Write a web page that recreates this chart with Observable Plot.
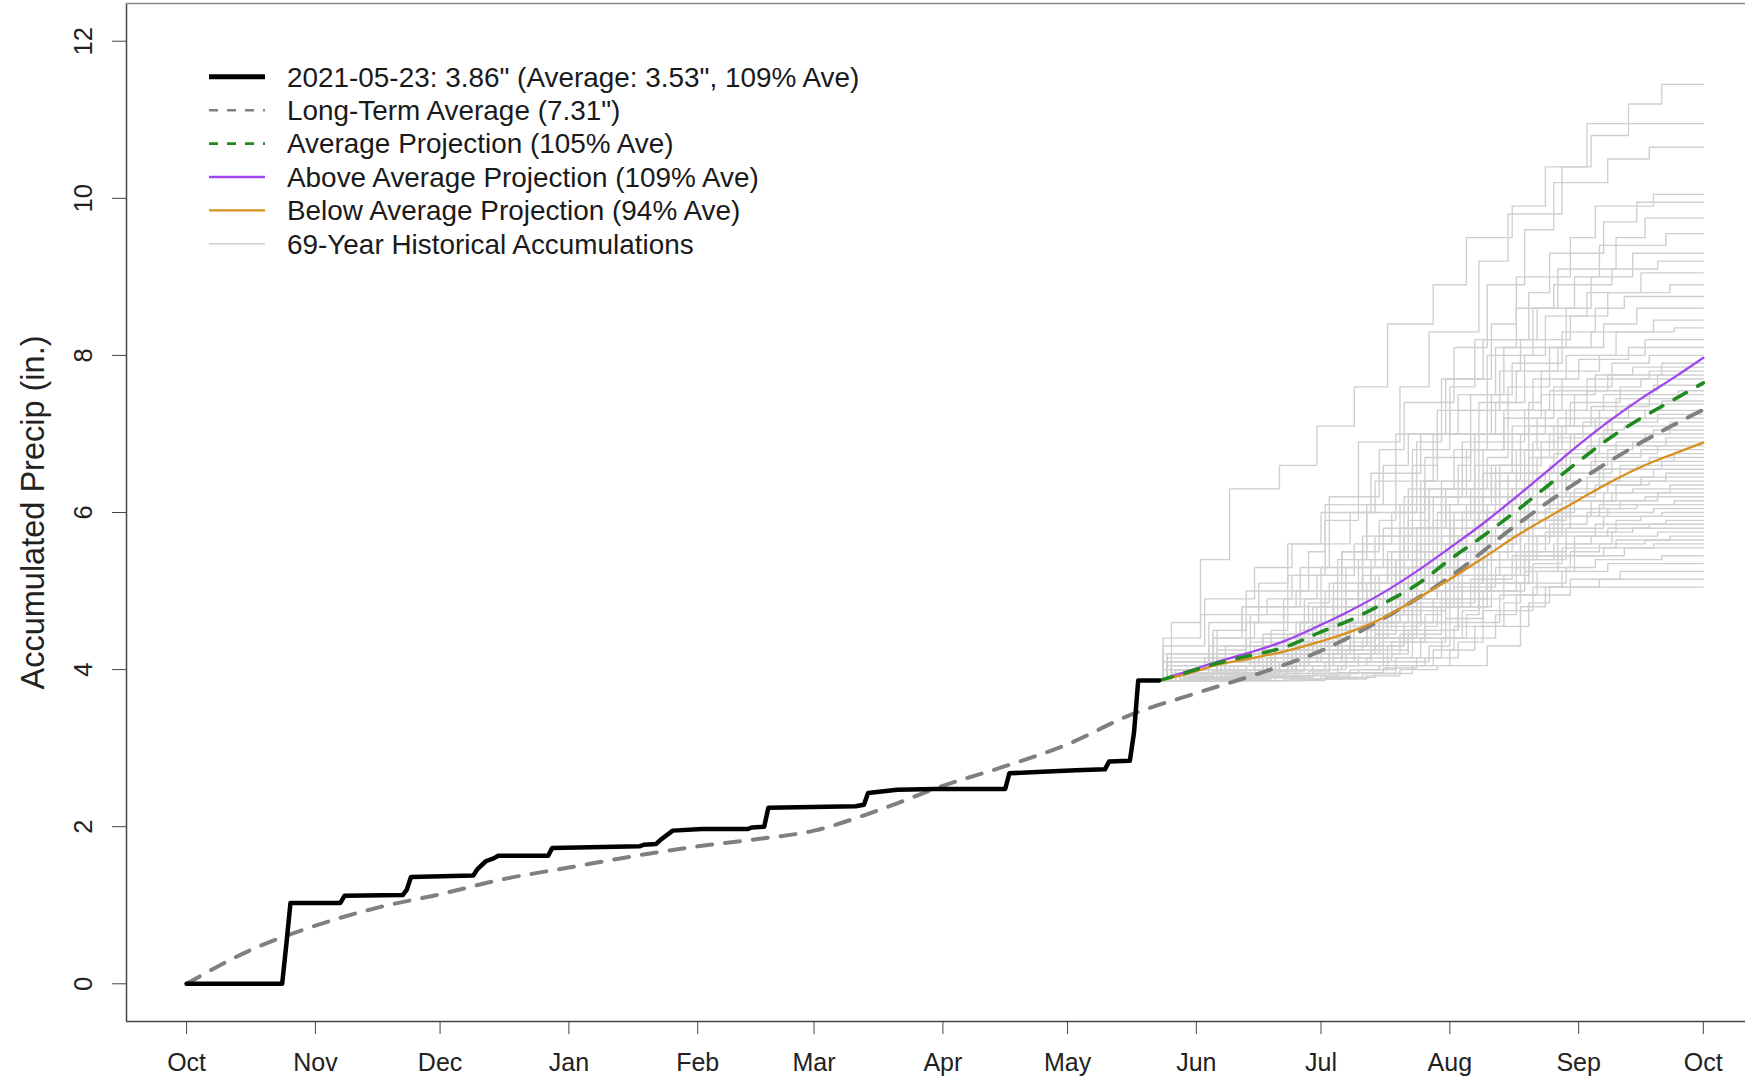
<!DOCTYPE html>
<html>
<head>
<meta charset="utf-8">
<script src="https://cdn.jsdelivr.net/npm/d3@7"></script>
<script src="https://cdn.jsdelivr.net/npm/@observablehq/plot@0.6"></script>
<style>
html, body { margin: 0; padding: 0; background: #fff; overflow: hidden; }
#wrap { position: relative; width: 1745px; height: 1081px; }
#wrap svg { display: block; }
</style>
</head>
<body>
<div id="wrap"></div>
<script>
// ---------------- DATA ----------------
// Water year origin: 2020-10-01. Days counted from that date.
const monthLabels = ["Oct","Nov","Dec","Jan","Feb","Mar","Apr","May","Jun","Jul","Aug","Sep","Oct"];
const yTicks = [0, 2, 4, 6, 8, 10, 12];
const yTitle = "Accumulated Precip (in.)";

// Observed 2020-21 accumulation (black)
const obsDay = [0,23,24,25,37,38,52,53,54,69,70,72,74,75,87,88,109,110,113,114,117,124,135,136,139,140,161,163,164,171,180,197,198,206,214,221,222,227,228,229,234];
const obsValue = [0,0,0.5,1.03,1.03,1.12,1.13,1.2,1.36,1.38,1.46,1.56,1.6,1.63,1.63,1.73,1.75,1.77,1.78,1.83,1.95,1.97,1.97,1.99,2.0,2.24,2.26,2.28,2.43,2.47,2.48,2.48,2.68,2.7,2.72,2.73,2.83,2.84,3.2,3.86,3.86];

// Long-term average (gray dashed)
const ltaDay = [0,15,31,46,61,76,92,107,123,137,151,166,182,197,212,227,243,258,273,289,304,320,335,350,365];
const ltaValue = [0,0.42,0.74,0.97,1.14,1.33,1.48,1.62,1.75,1.84,1.95,2.20,2.52,2.77,3.05,3.42,3.70,3.95,4.24,4.68,5.18,5.84,6.40,6.89,7.31];

// Projections from 2021-05-23
const projDay = [234,241,248,256,264,273,280,288,296,304,312,320,328,335,342,350,358,365];
const aboveValue = [3.86,3.98,4.10,4.22,4.36,4.57,4.75,4.98,5.25,5.55,5.86,6.20,6.55,6.86,7.15,7.45,7.72,7.97];
const avgValue   = [3.86,3.97,4.08,4.18,4.28,4.48,4.63,4.84,5.08,5.40,5.70,6.02,6.36,6.65,6.93,7.20,7.44,7.65];
const belowValue = [3.86,3.95,4.06,4.14,4.23,4.36,4.48,4.66,4.90,5.15,5.42,5.70,5.95,6.16,6.37,6.58,6.75,6.89];

// 69 historical accumulations from 2021-05-23: [days after May 23, accumulated inches]
const histEvents = [
  [[3,4.6],[10,5.4],[17,6.3],[29,6.6],[38,7.1],[47,7.6],[55,8.4],[66,8.9],[74,9.5],[85,9.9],[93,10.4],[104,10.8],[113,11.2],[121,11.45]],
  [[6,3.95],[16,4.3],[22,4.7],[31,5.2],[40,5.9],[48,6.9],[58,7.6],[65,8.3],[77,9.2],[84,9.8],[97,10.4],[103,10.95]],
  [[2,4.1],[13,4.4],[20,4.8],[34,5.3],[41,6.2],[53,6.8],[59,7.4],[71,8.1],[79,8.9],[88,9.6],[95,10.2],[108,10.5],[118,10.65]],
  [[9,3.9],[18,4.05],[25,4.4],[35,4.9],[44,5.5],[50,6.0],[62,6.9],[68,7.7],[80,8.4],[86,9.0],[99,9.5],[105,9.9],[119,10.05]],
  [[1,4.3],[11,4.9],[23,5.3],[32,5.6],[39,6.0],[52,6.4],[57,7.0],[70,7.6],[76,8.2],[89,8.8],[94,9.3],[107,9.7],[115,9.95]],
  [[8,3.9],[19,4.0],[27,4.2],[33,4.6],[45,5.0],[49,5.7],[61,6.6],[67,7.3],[79,8.0],[90,8.6],[96,9.1],[110,9.5],[117,9.75]],
  [[4,4.0],[14,4.5],[21,5.0],[36,5.5],[40,6.1],[54,6.6],[60,7.0],[72,7.5],[81,8.1],[86,8.6],[100,9.0],[106,9.4],[122,9.55]],
  [[17,3.95],[26,4.1],[30,4.4],[43,4.7],[52,5.2],[58,5.8],[64,6.7],[75,7.5],[83,8.1],[98,8.6],[104,9.0],[114,9.3]],
  [[2,4.2],[12,4.6],[24,5.1],[31,5.6],[46,6.0],[51,6.5],[63,7.0],[69,7.7],[78,8.2],[91,8.6],[95,8.9],[109,9.1],[120,9.2]],
  [[7,3.9],[15,4.1],[28,4.3],[34,4.6],[42,5.1],[55,5.5],[59,6.2],[73,6.9],[77,7.4],[88,8.0],[93,8.5],[108,8.8],[116,9.05]],
  [[5,3.95],[16,4.05],[22,4.35],[37,4.8],[43,5.4],[50,6.1],[61,6.8],[70,7.3],[82,7.8],[87,8.2],[99,8.5],[103,8.8],[123,8.9]],
  [[1,4.4],[10,4.7],[26,4.9],[32,5.2],[44,5.5],[53,5.9],[57,6.4],[66,7.0],[80,7.5],[85,7.9],[97,8.3],[105,8.6],[112,8.75]],
  [[15,3.95],[23,4.05],[35,4.3],[41,4.6],[48,5.0],[62,5.6],[68,6.3],[76,7.0],[84,7.6],[94,8.1],[107,8.4],[115,8.6]],
  [[3,4.05],[14,4.2],[25,4.45],[30,4.8],[39,5.3],[54,5.8],[60,6.3],[71,6.8],[79,7.3],[90,7.7],[98,8.0],[110,8.3],[119,8.45]],
  [[9,3.9],[17,4.0],[27,4.15],[36,4.4],[42,4.9],[49,5.6],[63,6.4],[67,7.0],[81,7.4],[86,7.8],[96,8.1],[104,8.3],[124,8.35]],
  [[2,4.1],[13,4.5],[20,4.8],[33,5.0],[45,5.3],[52,5.7],[58,6.1],[72,6.6],[75,7.0],[89,7.4],[92,7.8],[106,8.0],[117,8.2]],
  [[12,3.9],[24,4.0],[31,4.2],[40,4.5],[50,4.9],[56,5.5],[65,6.2],[74,6.8],[83,7.3],[97,7.7],[101,7.95],[113,8.1]],
  [[6,3.95],[15,4.1],[21,4.3],[35,4.6],[44,4.9],[51,5.3],[62,5.8],[69,6.3],[78,6.8],[91,7.2],[95,7.6],[109,7.9],[118,8.0]],
  [[4,4.0],[11,4.15],[25,4.3],[34,4.5],[38,4.8],[53,5.2],[59,5.7],[70,6.1],[80,6.6],[85,7.1],[100,7.5],[105,7.75],[121,7.9]],
  [[8,3.88],[16,3.92],[26,4.05],[32,4.25],[46,4.6],[50,5.1],[64,5.8],[68,6.4],[77,6.9],[88,7.3],[94,7.55],[108,7.75],[114,7.85]],
  [[1,4.2],[13,4.4],[23,4.6],[36,4.85],[41,5.1],[55,5.4],[61,5.8],[66,6.2],[82,6.6],[87,7.0],[98,7.3],[103,7.55],[120,7.75]],
  [[10,3.9],[19,4.0],[28,4.2],[37,4.4],[43,4.7],[52,5.0],[57,5.4],[71,6.0],[76,6.6],[89,7.1],[99,7.4],[111,7.6],[116,7.7]],
  [[14,4.1],[22,4.2],[30,4.4],[39,4.8],[48,5.4],[60,5.9],[65,6.3],[79,6.7],[84,7.0],[93,7.3],[107,7.5],[119,7.62]],
  [[5,3.95],[17,4.05],[24,4.15],[33,4.3],[42,4.6],[54,5.0],[58,5.5],[73,6.0],[78,6.5],[90,6.9],[96,7.2],[110,7.45],[125,7.55]],
  [[3,4.05],[12,4.3],[27,4.5],[31,4.7],[45,4.9],[49,5.2],[63,5.6],[67,6.0],[81,6.4],[86,6.8],[95,7.1],[104,7.35],[118,7.5]],
  [[9,3.9],[18,3.95],[26,4.0],[35,4.1],[41,4.3],[53,4.7],[61,5.3],[70,5.9],[77,6.4],[88,6.8],[97,7.1],[106,7.3],[121,7.42]],
  [[6,4.0],[16,4.1],[23,4.3],[34,4.6],[40,5.0],[51,5.4],[62,5.8],[69,6.2],[80,6.5],[85,6.8],[99,7.0],[105,7.2],[113,7.38]],
  [[13,3.9],[25,4.0],[32,4.15],[44,4.4],[50,4.8],[59,5.2],[68,5.7],[76,6.2],[89,6.7],[94,7.0],[108,7.2],[117,7.3]],
  [[2,4.15],[14,4.25],[21,4.4],[36,4.55],[43,4.8],[48,5.1],[64,5.5],[71,5.9],[75,6.3],[91,6.7],[96,6.95],[102,7.15],[120,7.25]],
  [[7,3.9],[15,4.0],[28,4.1],[33,4.3],[46,4.5],[52,4.9],[57,5.4],[66,5.9],[82,6.4],[87,6.8],[100,7.0],[109,7.15],[115,7.2]],
  [[4,3.95],[19,4.05],[22,4.2],[37,4.4],[39,4.7],[55,5.0],[60,5.3],[72,5.7],[79,6.1],[84,6.5],[98,6.8],[104,7.0],[123,7.15]],
  [[11,3.88],[20,3.95],[29,4.1],[38,4.3],[47,4.6],[56,5.1],[63,5.6],[74,6.1],[81,6.6],[92,6.9],[107,7.05],[112,7.1]],
  [[3,4.0],[16,4.1],[24,4.25],[31,4.45],[42,4.7],[50,5.0],[61,5.4],[67,5.8],[78,6.2],[90,6.5],[95,6.75],[106,6.95],[119,7.05]],
  [[8,3.9],[13,4.0],[26,4.15],[35,4.35],[45,4.6],[54,4.9],[58,5.3],[70,5.7],[83,6.1],[86,6.4],[97,6.7],[110,6.9],[117,7.0]],
  [[15,3.95],[23,4.1],[34,4.3],[40,4.5],[53,4.8],[62,5.2],[68,5.6],[77,6.0],[88,6.4],[99,6.7],[103,6.85],[122,6.95]],
  [[1,4.1],[12,4.2],[25,4.3],[30,4.45],[44,4.6],[49,4.9],[64,5.2],[69,5.6],[79,6.0],[85,6.3],[96,6.6],[108,6.8],[114,6.9]],
  [[9,3.88],[17,3.95],[21,4.05],[36,4.2],[43,4.4],[51,4.7],[59,5.1],[72,5.5],[76,5.9],[91,6.3],[94,6.6],[105,6.75],[120,6.85]],
  [[5,3.95],[14,4.05],[27,4.15],[32,4.3],[41,4.5],[55,4.8],[57,5.1],[71,5.4],[80,5.8],[87,6.2],[98,6.5],[109,6.7],[116,6.8]],
  [[12,3.9],[22,4.0],[29,4.1],[39,4.3],[50,4.6],[58,5.0],[65,5.5],[78,5.9],[84,6.2],[93,6.5],[104,6.65],[124,6.75]],
  [[3,4.0],[11,4.1],[24,4.2],[37,4.35],[45,4.55],[52,4.8],[60,5.1],[66,5.5],[81,5.8],[89,6.1],[97,6.4],[111,6.6],[118,6.7]],
  [[7,3.9],[18,3.95],[26,4.05],[34,4.2],[38,4.4],[53,4.7],[63,5.0],[70,5.3],[77,5.7],[86,6.0],[100,6.3],[106,6.55],[121,6.65]],
  [[14,3.9],[20,3.95],[31,4.05],[41,4.2],[47,4.5],[56,4.9],[67,5.4],[74,5.8],[85,6.1],[95,6.4],[107,6.55],[115,6.6]],
  [[4,3.95],[16,4.05],[22,4.2],[35,4.4],[46,4.6],[51,4.8],[62,5.1],[68,5.4],[80,5.7],[88,6.0],[99,6.25],[103,6.45],[119,6.55]],
  [[10,3.88],[19,3.92],[28,4.0],[33,4.1],[44,4.3],[54,4.6],[61,4.9],[73,5.3],[79,5.7],[90,6.0],[94,6.25],[108,6.4],[122,6.5]],
  [[2,4.05],[13,4.15],[25,4.25],[36,4.35],[40,4.5],[49,4.7],[59,5.0],[71,5.3],[75,5.6],[87,5.9],[97,6.15],[110,6.35],[116,6.45]],
  [[16,3.9],[24,3.98],[32,4.1],[42,4.25],[52,4.45],[57,4.75],[69,5.1],[78,5.5],[85,5.9],[96,6.2],[105,6.35],[118,6.4]],
  [[6,3.9],[15,4.0],[23,4.1],[35,4.2],[43,4.4],[55,4.6],[60,4.9],[67,5.2],[82,5.5],[89,5.8],[93,6.05],[107,6.25],[123,6.35]],
  [[13,3.88],[27,3.92],[33,4.0],[45,4.15],[51,4.4],[61,4.8],[70,5.2],[76,5.6],[86,5.9],[98,6.15],[109,6.25],[114,6.3]],
  [[5,3.95],[12,4.05],[26,4.15],[31,4.25],[39,4.4],[53,4.6],[58,4.85],[72,5.1],[77,5.4],[91,5.7],[95,5.95],[104,6.15],[120,6.25]],
  [[9,3.88],[21,3.9],[30,3.95],[37,4.05],[48,4.2],[54,4.4],[64,4.7],[68,5.0],[79,5.4],[87,5.8],[99,6.05],[111,6.15],[117,6.2]],
  [[7,3.9],[17,3.95],[25,4.05],[34,4.15],[44,4.3],[50,4.5],[62,4.8],[73,5.1],[78,5.4],[90,5.7],[96,5.95],[106,6.1],[124,6.15]],
  [[28,3.9],[36,3.98],[41,4.1],[55,4.3],[59,4.6],[69,5.0],[80,5.4],[84,5.7],[97,5.95],[108,6.05],[115,6.1]],
  [[1,4.0],[14,4.05],[22,4.1],[32,4.2],[46,4.35],[52,4.55],[63,4.8],[71,5.05],[81,5.3],[88,5.6],[94,5.85],[103,6.0],[119,6.05]],
  [[10,3.88],[18,3.92],[27,3.98],[35,4.05],[42,4.15],[56,4.35],[61,4.6],[66,4.9],[79,5.2],[86,5.5],[98,5.8],[107,5.95],[121,6.0]],
  [[15,3.9],[24,3.95],[33,4.0],[40,4.1],[51,4.25],[60,4.5],[72,4.85],[76,5.2],[89,5.5],[93,5.75],[110,5.9],[116,5.95]],
  [[4,3.92],[13,3.98],[21,4.05],[36,4.15],[45,4.25],[49,4.4],[62,4.6],[70,4.9],[83,5.2],[87,5.45],[100,5.7],[105,5.85],[122,5.9]],
  [[19,3.88],[26,3.9],[37,3.95],[43,4.05],[54,4.2],[58,4.45],[68,4.8],[75,5.15],[85,5.45],[96,5.7],[108,5.8],[118,5.85]],
  [[8,3.9],[16,3.95],[29,4.0],[31,4.1],[47,4.2],[53,4.35],[64,4.55],[67,4.8],[80,5.1],[89,5.4],[95,5.6],[109,5.75],[114,5.8]],
  [[30,3.88],[39,3.92],[46,4.0],[57,4.15],[63,4.4],[73,4.75],[77,5.1],[88,5.4],[98,5.6],[104,5.7],[120,5.75]],
  [[3,3.95],[14,4.0],[25,4.05],[35,4.1],[41,4.2],[52,4.3],[59,4.5],[72,4.8],[79,5.1],[90,5.35],[97,5.55],[110,5.65],[123,5.7]],
  [[11,3.9],[22,3.95],[34,4.0],[44,4.05],[50,4.15],[61,4.35],[69,4.65],[78,5.0],[86,5.3],[99,5.5],[106,5.6],[117,5.65]],
  [[6,3.88],[20,3.9],[27,3.92],[38,3.95],[48,4.0],[55,4.1],[65,4.3],[70,4.6],[82,4.95],[91,5.25],[96,5.45],[112,5.55],[119,5.6]],
  [[9,3.9],[17,3.95],[28,4.0],[33,4.05],[45,4.1],[56,4.2],[60,4.4],[74,4.7],[77,5.0],[88,5.25],[100,5.45],[107,5.55]],
  [[32,3.88],[40,3.9],[49,3.95],[57,4.05],[66,4.25],[71,4.55],[83,4.85],[87,5.1],[98,5.3],[105,5.4],[121,5.45]],
  [[5,3.88],[18,3.9],[26,3.92],[37,3.95],[46,4.0],[53,4.05],[64,4.15],[72,4.35],[78,4.75],[90,5.05],[97,5.25],[108,5.35]],
  [[16,3.88],[25,3.9],[34,3.92],[43,3.96],[54,4.02],[62,4.15],[68,4.4],[81,4.7],[86,4.95],[99,5.15],[111,5.25]],
  [[35,3.88],[44,3.9],[52,3.95],[61,4.05],[70,4.25],[76,4.55],[89,4.85],[94,5.05],[106,5.15]],
  [[40,3.88],[50,3.92],[58,4.0],[67,4.05],[79,4.3],[87,4.8],[93,5.05]],
  [[12,4.2],[21,4.6],[30,4.9],[38,5.2],[47,5.6],[56,6.0],[64,6.4],[75,6.8],[83,7.2],[92,7.5],[103,7.7],[118,7.8]]
];

const legendLabels = [
  '2021-05-23: 3.86" (Average: 3.53", 109% Ave)',
  'Long-Term Average (7.31")',
  'Average Projection (105% Ave)',
  'Above Average Projection (109% Ave)',
  'Below Average Projection (94% Ave)',
  '69-Year Historical Accumulations'
];

// ---------------- BUILD ----------------
const origin = Date.UTC(2020, 9, 1);
const DAY = 864e5;
const toDate = d => new Date(origin + d * DAY);
const tickDates = d3.utcMonth.range(new Date(origin), toDate(366));
const tickLabel = new Map(tickDates.map((d, i) => [+d, monthLabels[i]]));

const xDomain = [toDate(-14.46), toDate(375.15)];
const yDomain = [-0.48, 12.48];

const obs = obsDay.map((d, i) => ({date: toDate(d), v: obsValue[i]}));
const lta = ltaDay.map((d, i) => ({date: toDate(d), v: ltaValue[i]}));
const proj = (vals) => projDay.map((d, i) => ({date: toDate(d), v: vals[i]}));
const startDay = obsDay[obsDay.length - 1];
const startVal = obsValue[obsValue.length - 1];
const hist = histEvents.flatMap((ev, i) => [
  {i, date: toDate(startDay), v: startVal},
  ...ev.map(([o, v]) => ({i, date: toDate(startDay + o), v})),
  {i, date: toDate(365), v: ev[ev.length - 1][1]}
]);

const FONT = "'Liberation Sans', Arial, Helvetica, sans-serif";
const COL = {
  obs: "#000000", lta: "#808080", avg: "#1f8a1f",
  above: "#a046ec", below: "#d8901f", hist: "#cfcfcf"
};

const chart = Plot.plot({
  width: 1745,
  height: 1081,
  marginLeft: 126,
  marginRight: 0,
  marginTop: 3,
  marginBottom: 60,
  style: {fontFamily: FONT, fontSize: "25px", color: "#222", background: "#fff", overflow: "hidden"},
  x: {type: "utc", domain: xDomain},
  y: {domain: yDomain},
  marks: [
    Plot.line(hist, {x: "date", y: "v", z: "i", curve: "step-after", stroke: COL.hist, strokeWidth: 1.35}),
    Plot.line(lta, {x: "date", y: "v", curve: "monotone-x", stroke: COL.lta, strokeWidth: 4, strokeDasharray: "15,13", strokeLinecap: "round"}),
    Plot.line(proj(aboveValue), {x: "date", y: "v", curve: "monotone-x", stroke: COL.above, strokeWidth: 2.3}),
    Plot.line(proj(belowValue), {x: "date", y: "v", curve: "monotone-x", stroke: COL.below, strokeWidth: 2.3}),
    Plot.line(proj(avgValue), {x: "date", y: "v", curve: "monotone-x", stroke: COL.avg, strokeWidth: 3.6, strokeDasharray: "14,13", strokeLinecap: "round"}),
    Plot.line(obs, {x: "date", y: "v", stroke: COL.obs, strokeWidth: 4.5, strokeLinejoin: "round", strokeLinecap: "round"}),
    // frame (left, bottom, top; right edge is beyond the picture)
    Plot.ruleX([xDomain[0]], {stroke: "#444", strokeWidth: 1.5}),
    Plot.ruleY([yDomain[0]], {stroke: "#444", strokeWidth: 1.5}),
    Plot.ruleY([yDomain[1]], {stroke: "#888", strokeWidth: 1.5}),
    // axes
    Plot.axisX({ticks: tickDates, tickFormat: d => tickLabel.get(+d), tickSize: 13, tickPadding: 19, label: null, stroke: "#444", fontSize: 25, fill: "#222"}),
    Plot.axisY({ticks: yTicks, tickSize: 14, tickFormat: () => "", label: null, stroke: "#444"}),
    Plot.text(yTicks, {y: d => d, frameAnchor: "left", dx: -43, text: d => String(d), rotate: -90, fontSize: 25.5, textAnchor: "middle", lineAnchor: "middle", fill: "#222"}),
    Plot.text([yTitle], {frameAnchor: "left", dx: -93, text: d => d, rotate: -90, fontSize: 32.5, textAnchor: "middle", lineAnchor: "middle", fill: "#222"})
  ]
});

const wrap = document.getElementById("wrap");
wrap.appendChild(chart);

// ---------------- LEGEND (overlay) ----------------
const legendStyles = [
  {stroke: COL.obs, width: 5, dash: null},
  {stroke: COL.lta, width: 2.6, dash: "9,9"},
  {stroke: COL.avg, width: 2.6, dash: "9,9"},
  {stroke: COL.above, width: 2.4, dash: null},
  {stroke: COL.below, width: 2.4, dash: null},
  {stroke: COL.hist, width: 1.6, dash: null}
];
const leg = d3.select(wrap).append("svg")
  .attr("width", 900).attr("height", 280)
  .style("position", "absolute").style("left", "0px").style("top", "0px")
  .style("font-family", FONT);
const rowG = leg.selectAll("g").data(legendLabels).join("g")
  .attr("transform", (d, i) => `translate(0, ${76.8 + i * 33.4})`);
rowG.append("line")
  .attr("x1", 209).attr("x2", 265).attr("y1", 0).attr("y2", 0)
  .attr("stroke", (d, i) => legendStyles[i].stroke)
  .attr("stroke-width", (d, i) => legendStyles[i].width)
  .attr("stroke-dasharray", (d, i) => legendStyles[i].dash)
  .attr("stroke-linecap", "butt");
rowG.append("text")
  .attr("x", 287).attr("y", 0).attr("dy", "0.35em")
  .attr("font-size", 27.9).attr("fill", "#1a1a1a")
  .text(d => d);
</script>
</body>
</html>
